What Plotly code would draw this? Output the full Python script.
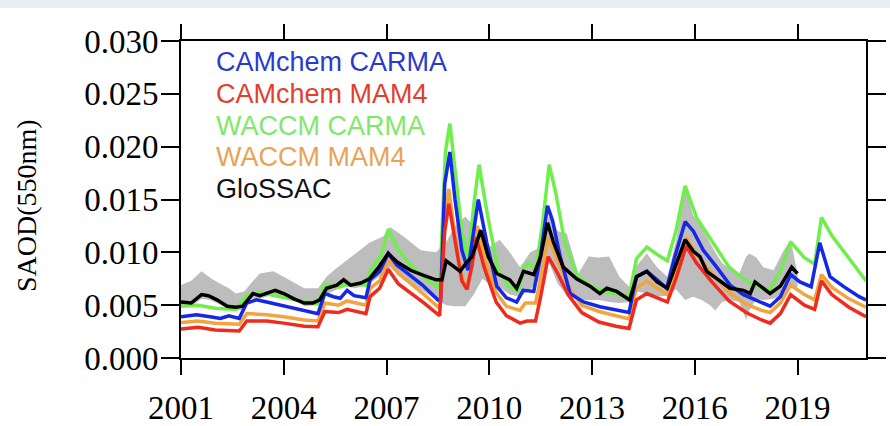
import plotly.graph_objects as go

# ---------------- data (SAOD at 550 nm, decimal years) ----------------
glossac_t = [2001.0, 2001.3, 2001.6, 2001.8, 2002.05, 2002.35, 2002.6, 2002.8, 2003.1, 2003.3,
             2003.75, 2004.0, 2004.3, 2004.6, 2004.85, 2005.05, 2005.25, 2005.55, 2005.75, 2005.95,
             2006.25, 2006.5, 2006.75, 2007.05, 2007.3, 2007.7, 2008.1, 2008.45, 2008.62, 2008.74,
             2008.95, 2009.15, 2009.35, 2009.5, 2009.75, 2009.97, 2010.22, 2010.6, 2010.8, 2011.0,
             2011.3, 2011.5, 2011.7, 2011.87, 2012.16, 2012.55, 2012.94, 2013.23, 2013.43, 2013.72,
             2014.1, 2014.3, 2014.6, 2014.9, 2015.2, 2015.47, 2015.72, 2015.96, 2016.15, 2016.35,
             2016.64, 2017.03, 2017.42, 2017.62, 2017.76, 2018.0, 2018.2, 2018.5, 2018.83, 2019.0]
glossac_v = [0.0053, 0.0052, 0.0060, 0.0059, 0.0055, 0.0049, 0.0048, 0.0049, 0.0061, 0.0059,
             0.0064, 0.0061, 0.0056, 0.0052, 0.0052, 0.0055, 0.0066, 0.0069, 0.0074, 0.0069,
             0.0071, 0.0075, 0.0085, 0.0099, 0.0091, 0.0083, 0.0078, 0.0074, 0.0074, 0.0092,
             0.0087, 0.0082, 0.0091, 0.0096, 0.0121, 0.0096, 0.0080, 0.0074, 0.0066, 0.0082,
             0.0079, 0.0096, 0.0128, 0.0110, 0.0086, 0.0075, 0.0068, 0.0061, 0.0066, 0.0063,
             0.0055, 0.0077, 0.0082, 0.0072, 0.0066, 0.0090, 0.0112, 0.0101, 0.0096, 0.0082,
             0.0075, 0.0066, 0.0064, 0.0061, 0.0072, 0.0066, 0.0061, 0.0068, 0.0086, 0.0080]

# GloSSAC spread (shaded envelope)
band_t = [2001.0, 2001.3, 2001.6, 2001.85, 2002.1, 2002.4, 2002.6, 2002.85, 2003.05, 2003.3,
          2003.7, 2004.1, 2004.4, 2004.6, 2005.0, 2005.25, 2005.5, 2005.75, 2006.1, 2006.5,
          2006.9, 2007.1, 2007.5, 2008.0, 2008.45, 2008.75, 2009.0, 2009.3, 2009.55, 2009.8,
          2010.0, 2010.3, 2010.6, 2010.9, 2011.2, 2011.5, 2011.75, 2012.0, 2012.26, 2012.6,
          2012.9, 2013.2, 2013.5, 2013.8, 2014.1, 2014.3, 2014.6, 2014.9, 2015.2, 2015.45,
          2015.72, 2015.95, 2016.2, 2016.45, 2016.6, 2016.8, 2017.0, 2017.3, 2017.5, 2017.6,
          2017.8, 2018.0, 2018.3, 2018.6, 2018.8, 2019.0]
band_hi = [0.0069, 0.0073, 0.0082, 0.0076, 0.0071, 0.0066, 0.0061, 0.0063, 0.0071, 0.0080,
           0.0082, 0.0075, 0.0070, 0.0066, 0.0066, 0.0077, 0.0084, 0.0090, 0.0099, 0.0109,
           0.0115, 0.0124, 0.0115, 0.0102, 0.0100, 0.0110, 0.0125, 0.0134, 0.0125, 0.0120,
           0.0105, 0.0112, 0.0100, 0.0086, 0.0100, 0.0105, 0.0135, 0.0120, 0.0118, 0.0080,
           0.0096, 0.0095, 0.0096, 0.0077, 0.0067, 0.0087, 0.0099, 0.0086, 0.0077, 0.0110,
           0.0163, 0.0135, 0.0124, 0.0109, 0.0100, 0.0090, 0.0085, 0.0080, 0.0096, 0.0099,
           0.0095, 0.0086, 0.0083, 0.0102, 0.0112, 0.0080]
band_lo = [0.0050, 0.0049, 0.0056, 0.0055, 0.0051, 0.0046, 0.0045, 0.0046, 0.0056, 0.0056,
           0.0060, 0.0057, 0.0053, 0.0049, 0.0050, 0.0060, 0.0064, 0.0068, 0.0066, 0.0070,
           0.0080, 0.0086, 0.0074, 0.0065, 0.0055, 0.0050, 0.0049, 0.0049, 0.0060, 0.0075,
           0.0070, 0.0067, 0.0060, 0.0058, 0.0065, 0.0075, 0.0090, 0.0070, 0.0060, 0.0055,
           0.0055, 0.0055, 0.0053, 0.0052, 0.0053, 0.0063, 0.0061, 0.0058, 0.0059, 0.0065,
           0.0055, 0.0058, 0.0055, 0.0050, 0.0045, 0.0053, 0.0055, 0.0053, 0.0036, 0.0045,
           0.0056, 0.0055, 0.0056, 0.0058, 0.0067, 0.0067]

cc_carma_t = [2001.0, 2001.45, 2001.85, 2002.15, 2002.4, 2002.7, 2002.92, 2003.2, 2003.5, 2003.9,
              2004.3, 2004.7, 2005.0, 2005.2, 2005.45, 2005.65, 2005.85, 2006.05, 2006.4, 2006.52,
              2006.8, 2007.05, 2007.3, 2007.7, 2008.05, 2008.5, 2008.58, 2008.7, 2008.85, 2009.0,
              2009.2, 2009.38, 2009.53, 2009.68, 2009.93, 2010.22, 2010.5, 2010.8, 2010.99, 2011.3,
              2011.48, 2011.7, 2011.85, 2012.07, 2012.36, 2012.75, 2013.23, 2013.72, 2014.08, 2014.3,
              2014.6, 2014.9, 2015.18, 2015.42, 2015.72, 2015.96, 2016.25, 2016.64, 2017.03, 2017.42,
              2017.8, 2018.2, 2018.5, 2018.8, 2019.07, 2019.4, 2019.65, 2019.95, 2020.35, 2020.8, 2021.0]
cc_carma_v = [0.0039, 0.0041, 0.0039, 0.00375, 0.0040, 0.00375, 0.0052, 0.0055, 0.0053, 0.0050,
              0.0047, 0.0044, 0.0042, 0.0061, 0.0058, 0.00565, 0.0064, 0.0059, 0.0057, 0.0074,
              0.0082, 0.0099, 0.0088, 0.0078, 0.0069, 0.0055, 0.0055, 0.0165, 0.0195, 0.0150,
              0.0102, 0.0083, 0.0118, 0.0150, 0.0109, 0.0068, 0.0057, 0.0053, 0.0064, 0.0063,
              0.0093, 0.0144, 0.0130, 0.0096, 0.0061, 0.0053, 0.00485, 0.0045, 0.0043, 0.0077,
              0.0082, 0.0074, 0.0066, 0.0096, 0.0129, 0.0120, 0.0102, 0.0086, 0.0069, 0.0060,
              0.0055, 0.0049, 0.0058, 0.0079, 0.0072, 0.00675, 0.0109, 0.0077, 0.00675, 0.0058, 0.0055]

cc_mam4_t = [2001.0, 2001.5, 2002.0, 2002.7, 2002.92, 2003.5, 2004.0, 2004.6, 2005.0, 2005.2,
             2005.6, 2005.85, 2006.4, 2006.52, 2006.8, 2007.05, 2007.35, 2007.7, 2008.1, 2008.55,
             2008.7, 2008.82, 2009.0, 2009.2, 2009.35, 2009.5, 2009.62, 2009.85, 2010.2, 2010.5,
             2010.9, 2011.1, 2011.35, 2011.5, 2011.72, 2012.0, 2012.3, 2012.7, 2013.2, 2013.7,
             2014.08, 2014.3, 2014.6, 2014.9, 2015.2, 2015.45, 2015.75, 2016.05, 2016.5, 2017.0,
             2017.5, 2017.95, 2018.2, 2018.5, 2018.8, 2019.2, 2019.5, 2019.7, 2020.0, 2020.5, 2021.0]
cc_mam4_v = [0.00275, 0.0029, 0.00265, 0.00255, 0.0035, 0.0035, 0.0033, 0.0030, 0.00295, 0.0044,
             0.0043, 0.0046, 0.0042, 0.0058, 0.0066, 0.0084, 0.0070, 0.0062, 0.0052, 0.0040,
             0.0120, 0.0146, 0.0110, 0.0073, 0.0065, 0.0088, 0.0114, 0.0086, 0.0053, 0.0040,
             0.0033, 0.0035, 0.0035, 0.0058, 0.0096, 0.0080, 0.0060, 0.0043, 0.0034, 0.0030,
             0.0028, 0.0055, 0.0061, 0.0057, 0.0053, 0.0075, 0.0106, 0.0090, 0.0072, 0.0054,
             0.0043, 0.0036, 0.0033, 0.0042, 0.0060, 0.0050, 0.0046, 0.0073, 0.0060, 0.0048, 0.0039]

wa_carma_t = [2001.0, 2001.5, 2002.0, 2002.6, 2002.9, 2003.3, 2003.9, 2004.5, 2005.0, 2005.2,
              2005.6, 2005.9, 2006.4, 2006.55, 2006.85, 2007.05, 2007.35, 2007.7, 2008.1, 2008.55,
              2008.72, 2008.85, 2009.0, 2009.2, 2009.38, 2009.55, 2009.7, 2009.95, 2010.25, 2010.55,
              2010.85, 2011.0, 2011.15, 2011.35, 2011.55, 2011.75, 2011.95, 2012.2, 2012.55, 2012.95,
              2013.5, 2014.08, 2014.3, 2014.6, 2014.9, 2015.2, 2015.45, 2015.72, 2016.05, 2016.5,
              2017.0, 2017.5, 2017.95, 2018.2, 2018.5, 2018.8, 2019.2, 2019.5, 2019.7, 2020.0,
              2020.5, 2021.0]
wa_carma_v = [0.0049, 0.0050, 0.0047, 0.0046, 0.0059, 0.0062, 0.0058, 0.0054, 0.0051, 0.0070,
              0.0067, 0.0070, 0.0069, 0.0084, 0.0098, 0.0122, 0.0102, 0.0088, 0.0076, 0.0066,
              0.0195, 0.0222, 0.0180, 0.0120, 0.0092, 0.0145, 0.0183, 0.0135, 0.0085, 0.0068,
              0.0063, 0.0085, 0.0090, 0.0083, 0.0125, 0.0183, 0.0155, 0.0110, 0.0079, 0.0068,
              0.0062, 0.0058, 0.0094, 0.0105, 0.0098, 0.0092, 0.0120, 0.0163, 0.0133, 0.0110,
              0.0086, 0.0073, 0.0066, 0.0065, 0.0082, 0.0110, 0.0095, 0.0089, 0.0133, 0.0116,
              0.0094, 0.0073]

wa_mam4_t = [2001.0, 2001.5, 2002.0, 2002.7, 2002.92, 2003.5, 2004.0, 2004.6, 2005.0, 2005.2,
             2005.6, 2005.85, 2006.4, 2006.52, 2006.8, 2007.05, 2007.35, 2007.7, 2008.1, 2008.55,
             2008.7, 2008.82, 2009.0, 2009.2, 2009.35, 2009.5, 2009.65, 2009.85, 2010.2, 2010.5,
             2010.9, 2011.05, 2011.35, 2011.5, 2011.72, 2012.0, 2012.3, 2012.7, 2013.2, 2013.7,
             2014.08, 2014.3, 2014.6, 2014.9, 2015.2, 2015.45, 2015.75, 2016.05, 2016.5, 2017.0,
             2017.5, 2017.95, 2018.2, 2018.5, 2018.8, 2019.2, 2019.5, 2019.7, 2020.0, 2020.5, 2021.0]
wa_mam4_v = [0.00335, 0.0035, 0.0033, 0.0032, 0.0042, 0.0041, 0.0039, 0.0036, 0.0035, 0.0052,
             0.0050, 0.0054, 0.0050, 0.0066, 0.0073, 0.0093, 0.0080, 0.0071, 0.0060, 0.0047,
             0.0130, 0.0160, 0.0115, 0.0076, 0.0067, 0.0090, 0.0125, 0.0095, 0.0062, 0.0049,
             0.0045, 0.0052, 0.0052, 0.0075, 0.0114, 0.0092, 0.0068, 0.0050, 0.0044, 0.0040,
             0.0037, 0.0066, 0.0073, 0.0066, 0.0060, 0.0083, 0.0114, 0.0098, 0.0080, 0.0062,
             0.0051, 0.0045, 0.0043, 0.0052, 0.0069, 0.0060, 0.0055, 0.0079, 0.0067, 0.0056, 0.0048]

names = ["CAMchem CARMA", "CAMchem MAM4", "WACCM CARMA", "WACCM MAM4", "GloSSAC"]
colors = ["#1428e6", "#f02a1e", "#6fee4c", "#f4a43e", "#000000"]
label_colors = ["#2a3acc", "#e2402e", "#7fe86a", "#e8a456", "#111111"]

x_ticks = [2001, 2004, 2007, 2010, 2013, 2016, 2019]
y_ticks = [0.000, 0.005, 0.010, 0.015, 0.020, 0.025, 0.030]

# ---------------- figure ----------------
fig = go.Figure()

# shaded GloSSAC envelope
fig.add_trace(go.Scatter(
    x=band_t + band_t[::-1], y=band_hi + band_lo[::-1],
    fill="toself", fillcolor="#bdbdbd", line=dict(width=0),
    mode="lines", hoverinfo="skip", showlegend=False))

series = [
    (wa_carma_t, wa_carma_v, 2),
    (wa_mam4_t, wa_mam4_v, 3),
    (cc_carma_t, cc_carma_v, 0),
    (cc_mam4_t, cc_mam4_v, 1),
    (glossac_t, glossac_v, 4),
]
for t, v, i in series:
    fig.add_trace(go.Scatter(
        x=t, y=v, mode="lines", name=names[i],
        line=dict(color=colors[i], width=3.5), showlegend=False))

# colored-text key in the upper left
for k, (name, col) in enumerate(zip(names, label_colors)):
    fig.add_annotation(
        x=0.048, xref="paper", xanchor="left",
        y=0.933 - k * 0.1, yref="paper", yanchor="middle",
        text=name, showarrow=False,
        font=dict(family="Liberation Sans, Arial", size=27, color=col))

# y-axis title
fig.add_annotation(
    x=-0.25, xref="paper", y=0.48, yref="paper",
    text="SAOD(550nm)", textangle=-90, showarrow=False,
    font=dict(family="Liberation Serif, Times New Roman", size=28, color="black"))

# thin light strip along the top edge
fig.add_shape(type="rect", xref="paper", yref="paper",
              x0=-0.3, x1=1.1, y0=1.104, y1=1.2,
              fillcolor="#e8eef5", line=dict(width=0), layer="below")

axis_common = dict(
    showline=True, linecolor="black", linewidth=2,
    mirror="allticks", ticks="outside", tickcolor="black", tickwidth=2,
    showgrid=False, zeroline=False, automargin=False,
    tickfont=dict(family="Liberation Serif, Times New Roman", size=33, color="black"),
)

fig.update_layout(
    width=890, height=426,
    margin=dict(l=181, r=24, t=41, b=68, autoexpand=False),
    paper_bgcolor="white", plot_bgcolor="white",
    showlegend=False,
    xaxis=dict(range=[2001, 2021], tickvals=x_ticks, ticklen=15,
               ticklabelstandoff=4, **axis_common),
    yaxis=dict(range=[0, 0.030], tickvals=y_ticks, tickformat=".3f", ticklen=18,
               ticklabelstandoff=-4, **axis_common),
)

fig.write_html("out.html")
